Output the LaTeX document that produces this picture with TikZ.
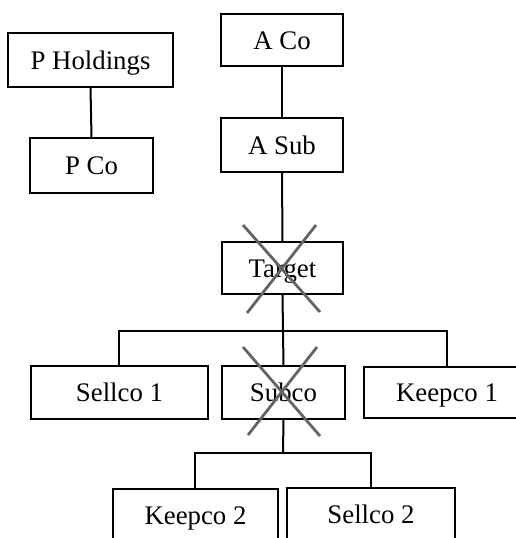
\documentclass[tikz,border=0pt]{standalone}
\usepackage{fontspec}
\setmainfont{Liberation Serif}
\usetikzlibrary{calc,positioning}
\definecolor{strikegray}{RGB}{100,100,100}
\tikzset{
  wire/.style={black,line width=1pt},
  strike/.style={strikegray,line width=1.4pt},
  entity/.style={draw=black,line width=1pt,fill=white,inner sep=0pt,
                 text height=11pt,text depth=1.8pt,
                 minimum height=26.5pt,align=center,font=\fontsize{13.4}{16}\selectfont},
}
\begin{document}
\begin{tikzpicture}[x=0.5pt,y=-0.5pt]
  \path[use as bounding box] (0,0) rectangle (516,538);
  \clip (0,0) rectangle (516,538);

  % left-hand group
  \node[entity,minimum width=82.5pt,minimum height=27pt] (PHOLD) at (90.5,60) {P Holdings};
  \node[entity,minimum width=61.5pt,minimum height=27.5pt] (PCO) at (91.5,165.5) {P Co};
  \draw[wire] (PHOLD.south) -- (PCO.north);

  % acquiring chain
  \node[entity,minimum width=61pt,minimum height=26pt] (ACO) at (282,40) {A Co};
  \node[entity,minimum width=61pt,minimum height=27pt] (ASUB) at (282,145) {A Sub};
  \node[entity,minimum width=60.5pt,minimum height=26pt] (TARGET) at (282.5,268) {Target};
  \draw[wire] (ACO.south) -- (ASUB.north);
  \draw[wire] (ASUB.south) -- (TARGET.north);

  % target's subsidiaries
  \node[entity,minimum width=88.5pt] (SELL1) at (119.5,392.5) {Sellco 1};
  \node[entity,minimum width=61.5pt] (SUBCO) at (283.5,392.5) {Subco};
  \node[entity,minimum width=83pt,minimum height=25.5pt] (KEEP1) at (447,392.5) {Keepco 1};
  \coordinate (SPLIT1) at (283,331);
  \draw[wire] (TARGET.south) -- (SPLIT1) -- (SUBCO.north);
  \draw[wire] (SELL1.north) |- (SPLIT1) -| (KEEP1.north);

  % subco's subsidiaries
  \node[entity,minimum width=82.5pt] (KEEP2) at (195.5,515.5) {Keepco 2};
  \node[entity,minimum width=84pt] (SELL2) at (371,514.5) {Sellco 2};
  \coordinate (SPLIT2) at (283,453);
  \draw[wire] (SUBCO.south) -- (SPLIT2);
  \draw[wire] (KEEP2.north) |- (SPLIT2) -| (SELL2.north);

  % struck-out entities
  \draw[strike] ($(TARGET)+(-39.5,-43)$) -- ($(TARGET)+(37.5,44)$);
  \draw[strike] ($(TARGET)+(33.5,-43)$) -- ($(TARGET)+(-35.5,45)$);
  \draw[strike] ($(SUBCO)+(-40.5,-45.5)$) -- ($(SUBCO)+(36.5,43.5)$);
  \draw[strike] ($(SUBCO)+(33.5,-45.5)$) -- ($(SUBCO)+(-35.5,42.5)$);
\end{tikzpicture}
\end{document}
